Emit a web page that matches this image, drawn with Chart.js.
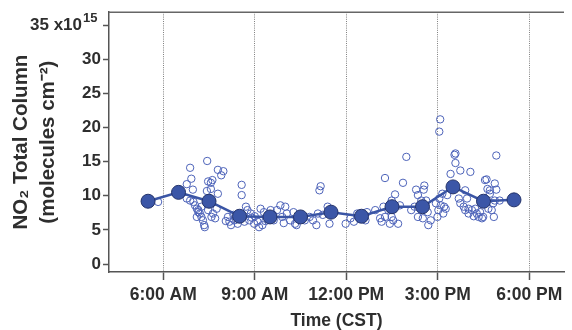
<!DOCTYPE html>
<html>
<head>
<meta charset="utf-8">
<script src="https://cdn.jsdelivr.net/npm/chart.js@4"></script>
<style>
  body { margin: 0; background: #fff; }
  #wrap { width: 572px; height: 330px; }
</style>
</head>
<body>
<div id="wrap"><canvas id="no2Chart" width="572" height="330"></canvas></div>
<script>
// Hourly means (time in decimal hours, CST)
const meanTimes = [5.5, 6.5, 7.5, 8.5, 9.5, 10.5, 11.5, 12.5, 13.5, 14.5, 15.5, 16.5, 17.5];
const meanValues = [9.2, 10.5, 9.2, 7.0, 6.9, 6.9, 7.6, 7.0, 8.4, 8.4, 11.3, 9.2, 9.4];

// Individual observations (x10^15 molecules cm^-2)
const obsTimes = [
  5.83, 6.88, 7.44, 6.92, 7.79, 7.97, 7.90, 7.61, 7.47, 7.56, 6.77, 6.97, 7.43, 7.79, 7.56,
  6.77, 6.88, 6.99, 7.04, 7.10, 7.15, 7.20, 7.25, 7.30, 7.34, 7.36, 7.10, 7.15, 7.25, 7.47,
  7.58, 7.70, 7.75, 7.63,
  8.57, 8.57, 8.71, 8.76, 8.12, 8.17, 8.22, 8.33, 8.44, 8.66, 8.82, 8.87, 8.98, 9.09, 9.19,
  9.30, 9.41, 9.52, 9.62, 9.73, 9.84, 10.00, 10.05, 10.16, 10.27, 10.32, 9.14, 9.25,
  8.30, 8.50, 8.90, 9.00, 9.35, 9.60, 9.90, 8.05, 9.95,
  10.37, 10.64, 10.80, 10.91, 11.02, 11.07, 11.39, 11.45, 11.23, 11.16, 11.12, 11.98, 12.14,
  12.36, 12.68, 12.95, 12.63, 12.44, 12.25,
  13.27, 13.86, 13.97, 13.60, 13.76, 13.49, 13.38, 13.22, 13.11, 13.16, 13.27, 13.49, 13.54,
  13.70, 13.43, 14.29, 14.56, 14.54, 14.35, 14.46, 14.62, 14.13, 14.35, 14.51, 14.67, 14.24,
  14.94, 15.10, 15.21, 15.02, 15.18, 15.26, 14.99, 15.15, 15.31, 15.05, 14.77, 14.69, 15.08,
  15.05,
  15.58, 15.55, 15.58, 15.74, 16.07, 15.42, 16.92, 16.55, 16.60, 16.87, 16.63, 16.71, 16.92,
  15.90, 15.96, 15.69, 15.74, 15.85, 16.01, 16.12, 16.23, 16.28, 16.39, 16.34, 16.45, 16.18,
  16.01, 15.90, 16.82, 16.77, 16.84, 16.66, 17.03, 16.71, 16.87, 16.49
];
const obsValues = [
  9.1, 14.1, 15.1, 12.5, 13.8, 13.6, 13.0, 12.3, 12.1, 11.9, 11.7, 10.9, 10.7, 10.3, 11.0,
  9.6, 9.3, 9.1, 8.6, 8.1, 7.9, 7.4, 6.9, 6.4, 5.7, 5.4, 6.9, 7.6, 8.4, 7.9,
  6.9, 6.7, 8.1, 7.4,
  11.6, 10.1, 8.4, 7.9, 6.9, 6.2, 5.7, 6.4, 5.9, 6.2, 6.4, 7.4, 5.9, 6.2, 8.1,
  7.6, 6.9, 7.9, 6.4, 7.9, 8.6, 8.4, 7.4, 6.4, 7.6, 5.9, 5.4, 5.7,
  7.2, 6.6, 6.8, 7.0, 6.3, 7.2, 6.9, 6.3, 6.0,
  5.7, 6.4, 6.9, 6.4, 5.7, 7.4, 8.4, 5.9, 7.2, 11.4, 10.8, 5.9, 6.7,
  7.4, 7.6, 7.9, 6.4, 6.7, 6.2,
  12.6, 11.9, 15.7, 10.2, 8.6, 9.3, 7.9, 8.4, 6.7, 6.2, 6.9, 6.9, 6.4,
  5.9, 5.9, 10.9, 11.5, 10.9, 10.1, 9.3, 9.3, 7.9, 6.9, 6.7, 7.6, 8.4,
  8.9, 8.6, 8.4, 7.9, 7.4, 8.1, 6.9, 10.3, 10.1, 9.6, 6.4, 5.7, 21.2,
  19.4,
  16.2, 16.0, 14.8, 13.7, 13.5, 13.2, 15.9, 12.3, 12.4, 11.8, 11.0, 10.8, 10.9,
  10.8, 9.6, 9.6, 8.9, 8.4, 8.1, 7.9, 8.1, 7.4, 7.6, 6.9, 6.7, 7.0,
  7.4, 7.9, 8.9, 7.9, 6.9, 8.1, 9.3, 10.3, 9.3, 6.9
];

// Axis ticks
const xTickValues = [6, 9, 12, 15, 18];
const xTickLabels = ['6:00 AM', '9:00 AM', '12:00 PM', '3:00 PM', '6:00 PM'];
const yTickValues = [0, 5, 10, 15, 20, 25, 30, 35];

const fontFamily = '"Liberation Sans", Arial, Helvetica, sans-serif';
const textColor = '#2e2e2e';
const axisColor = '#555';

// top frame line + the "35 x10^15" label with a real superscript
const extras = {
  id: 'extras',
  afterDraw(chart) {
    const { ctx, chartArea, scales } = chart;
    ctx.save();
    ctx.strokeStyle = '#666';
    ctx.lineWidth = 1.5;
    ctx.beginPath();
    ctx.moveTo(chartArea.left, chartArea.top);
    ctx.lineTo(chartArea.right, chartArea.top);
    ctx.stroke();

    const y35 = scales.y.getPixelForValue(35);
    ctx.fillStyle = textColor;
    ctx.textBaseline = 'middle';
    ctx.textAlign = 'right';
    ctx.font = 'bold 17px ' + fontFamily;
    ctx.fillText('35 x10', 82, y35);
    ctx.textAlign = 'left';
    ctx.font = 'bold 13px ' + fontFamily;
    ctx.fillText('15', 83, y35 - 7);
    ctx.restore();
  }
};

const ctx = document.getElementById('no2Chart').getContext('2d');
new Chart(ctx, {
  type: 'scatter',
  data: {
    datasets: [
      {
        label: 'Hourly mean',
        data: meanTimes.map((t, i) => ({ x: t, y: meanValues[i] })),
        showLine: true,
        borderColor: '#3a55a5',
        borderWidth: 2.5,
        pointRadius: 7,
        pointBackgroundColor: '#3b56a7',
        pointBorderColor: '#24336a',
        pointBorderWidth: 1,
      },
      {
        label: 'Observations',
        data: obsTimes.map((t, i) => ({ x: t, y: obsValues[i] })),
        pointRadius: 3.7,
        pointBackgroundColor: 'rgba(255,255,255,0)',
        pointBorderColor: '#4d63b9',
        pointBorderWidth: 1,
      }
    ]
  },
  options: {
    responsive: false,
    animation: false,
    layout: { padding: { top: 11, right: 0, bottom: 0, left: 0 } },
    plugins: { legend: { display: false }, tooltip: { enabled: false } },
    scales: {
      x: {
        type: 'linear',
        min: 4.22,
        max: 19.14,
        afterBuildTicks: axis => { axis.ticks = xTickValues.map(v => ({ value: v })); },
        afterFit: scale => { scale.height = 58; },
        ticks: {
          autoSkip: false,
          maxRotation: 0,
          padding: 5,
          color: textColor,
          font: { family: fontFamily, size: 17.5, weight: 'bold' },
          callback: v => xTickLabels[xTickValues.indexOf(v)]
        },
        grid: {
          color: '#808080',
          lineWidth: 1,
          tickLength: 8,
          tickColor: axisColor,
          tickWidth: 1.5,
          tickBorderDash: []
        },
        border: { display: true, color: axisColor, width: 1.5, dash: [1, 1.2] },
        title: {
          display: true,
          text: 'Time (CST)',
          color: textColor,
          padding: 0,
          font: { family: fontFamily, size: 17.5, weight: 'bold', lineHeight: 1.0 }
        }
      },
      y: {
        min: -1.17,
        max: 36.9,
        afterBuildTicks: axis => { axis.ticks = yTickValues.map(v => ({ value: v })); },
        afterFit: scale => { scale.width = 109; },
        ticks: {
          padding: 2,
          color: textColor,
          font: { family: fontFamily, size: 17, weight: 'bold' },
          callback: v => (v === 35 ? '' : String(v))
        },
        grid: {
          drawOnChartArea: false,
          tickLength: 6,
          tickColor: axisColor,
          tickWidth: 1.5
        },
        border: { display: true, color: axisColor, width: 1.5 },
        title: {
          display: true,
          text: ['NO\u2082 Total Column', '(molecules cm\u207B\u00B2)'],
          color: textColor,
          padding: { top: 8, bottom: 0 },
          font: { family: fontFamily, size: 20.5, weight: 'bold', lineHeight: 1.3 }
        }
      }
    }
  },
  plugins: [extras]
});
</script>
</body>
</html>
